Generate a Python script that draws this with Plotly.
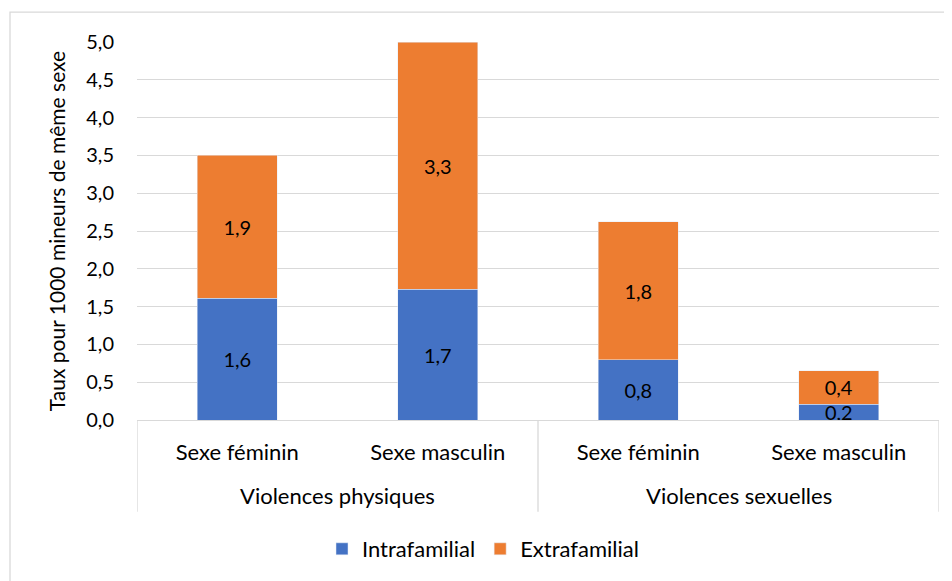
import plotly.graph_objects as go

# Data
groups = ["Violences physiques", "Violences physiques", "Violences sexuelles", "Violences sexuelles"]
sexes = ["Sexe féminin", "Sexe masculin", "Sexe féminin", "Sexe masculin"]
intrafamilial = [1.61, 1.73, 0.80, 0.21]
extrafamilial = [1.89, 3.27, 1.82, 0.44]
y_ticks = [0, 0.5, 1, 1.5, 2, 2.5, 3, 3.5, 4, 4.5, 5]

FONT = "Lato, 'Open Sans', sans-serif"
BLUE = "#4472C4"
ORANGE = "#ED7D31"
GRID = "#d9d9d9"

OFF = 8  # page body margin
SW, SH = 952, 581
W, H = SW - OFF, SH - OFF
# plot area in screen pixels: x 137..939, y 42..421
L, R, T, B = 137 - OFF, SW - 939, 42 - OFF, SH - 421
PW, PH = W - L - R, H - T - B

x = list(range(len(sexes)))

def py(pix):  # screen y pixel -> paper
    return (421 - pix) / PH

def px(pix):  # screen x pixel -> paper
    return (pix - 137) / PW

fig = go.Figure()
fig.add_trace(go.Bar(
    x=x, y=intrafamilial, name="Intrafamilial", marker_color=BLUE,
    width=0.4, texttemplate="%{y:.1f}", textposition="inside",
    insidetextanchor="middle", constraintext="none",
    textfont=dict(family=FONT, size=20, color="black"),
))
fig.add_trace(go.Bar(
    x=x, y=extrafamilial, name="Extrafamilial", marker_color=ORANGE,
    width=0.4, texttemplate="%{y:.1f}", textposition="inside",
    insidetextanchor="middle", constraintext="none",
    textfont=dict(family=FONT, size=20, color="black"),
))

shapes = []
unique_groups = []
for g in groups:
    if g not in unique_groups:
        unique_groups.append(g)
bounds = [-0.5]
for g in unique_groups:
    idx = [i for i, gg in enumerate(groups) if gg == g]
    bounds.append(max(idx) + 0.5)
for b in bounds:
    shapes.append(dict(type="line", xref="x", yref="paper", x0=b, x1=b,
                       y0=0, y1=py(513), line=dict(color=GRID, width=1.3)))
# outer chart border
shapes.append(dict(type="rect", xref="paper", yref="paper",
                   x0=px(10), x1=px(1000), y0=py(640), y1=py(12),
                   line=dict(color=GRID, width=1.3), layer="below"))

annotations = []
for g in unique_groups:
    idx = [i for i, gg in enumerate(groups) if gg == g]
    annotations.append(dict(x=sum(idx) / len(idx), y=py(497), xref="x", yref="paper",
                            text=g, showarrow=False, yanchor="middle",
                            font=dict(family=FONT, size=22, color="black")))

fig.update_layout(
    width=W, height=H,
    margin=dict(l=L, r=R, t=T, b=B),
    barmode="stack",
    separators=", ",
    plot_bgcolor="white", paper_bgcolor="white",
    font=dict(family=FONT, size=20, color="black"),
    showlegend=True,
    legend=dict(orientation="h", x=px(483), xanchor="center", y=py(549), yanchor="middle",
                font=dict(family=FONT, size=22, color="black"), itemwidth=30,
                traceorder="normal"),
    shapes=shapes,
    annotations=annotations,
    xaxis=dict(tickmode="array", tickvals=x, ticktext=sexes, range=[-0.5, 3.5],
               showgrid=False, zeroline=False, showline=True, linecolor=GRID, linewidth=1.3,
               ticks="", ticklabelstandoff=12,
               tickfont=dict(family=FONT, size=22, color="black")),
    yaxis=dict(range=[0, 5], tickvals=y_ticks, tickformat=".1f",
               showgrid=True, gridcolor=GRID, gridwidth=1.3, zeroline=False, showline=False,
               ticks="", ticklabelstandoff=22,
               tickfont=dict(family=FONT, size=20, color="black"),
               title=dict(text="Taux pour 1000 mineurs de même sexe",
                          font=dict(family=FONT, size=21, color="black"), standoff=14)),
)

fig.write_html("out.html")
